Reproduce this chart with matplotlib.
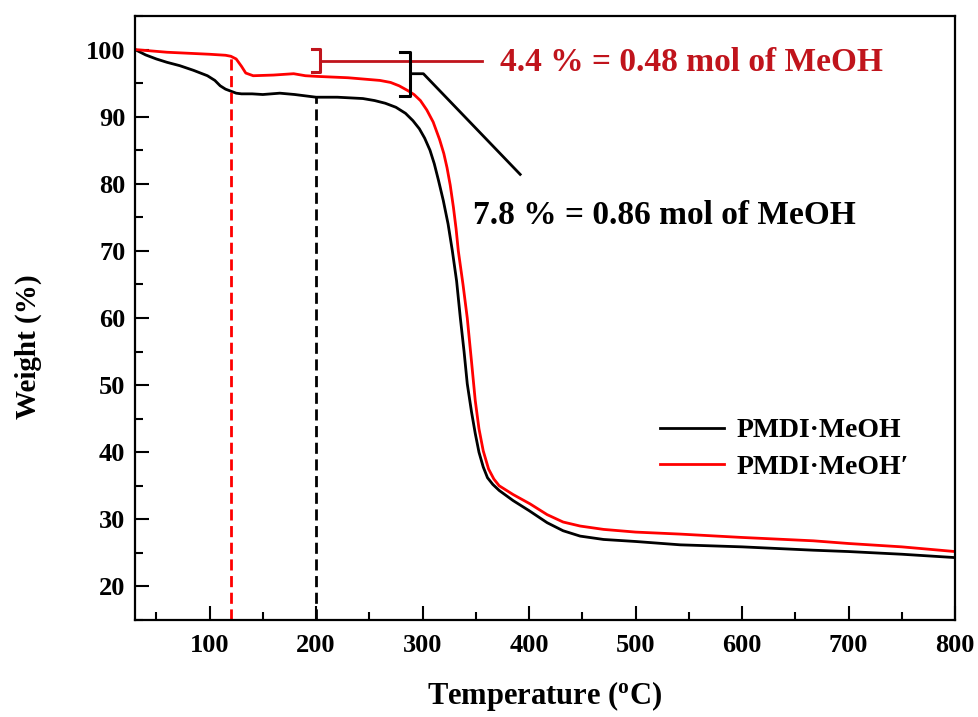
import matplotlib
matplotlib.use("Agg")
import matplotlib.pyplot as plt
from matplotlib.ticker import MultipleLocator

plt.rcParams["font.family"] = ["Liberation Serif", "DejaVu Serif"]
plt.rcParams["font.weight"] = "bold"
plt.rcParams["mathtext.fontset"] = "custom"
plt.rcParams["mathtext.rm"] = "Liberation Serif:bold"
plt.rcParams["mathtext.it"] = "Liberation Serif:bold"

# TGA curves: temperature (°C) vs. residual weight (%)
temp_a = [30, 40, 50, 60, 72, 85, 98, 105, 110, 115, 120, 125, 130, 140, 150,
          166, 180, 200, 220, 244, 255, 265, 275, 284, 291, 297, 302, 307, 311,
          315, 319.5, 324, 328, 332, 335.5, 339, 342, 346, 349.5, 353, 357,
          361, 366, 372, 385, 400, 417, 432, 448, 470, 500, 542, 600, 667,
          700, 750, 800]
weight_a = [100.0, 99.2, 98.6, 98.1, 97.6, 96.9, 96.1, 95.4, 94.6, 94.1, 93.8,
            93.5, 93.4, 93.4, 93.3, 93.5, 93.3, 92.9, 92.9, 92.7, 92.4, 92.0,
            91.4, 90.5, 89.4, 88.2, 86.8, 85.0, 83.0, 80.5, 77.5, 74.0, 70.0,
            65.5, 60.0, 55.0, 50.2, 46.0, 42.8, 40.0, 37.8, 36.2, 35.2, 34.3,
            32.8, 31.3, 29.5, 28.3, 27.5, 27.0, 26.7, 26.2, 25.9, 25.4, 25.2,
            24.8, 24.3]

temp_b = [30, 60, 100, 115, 120, 125, 130, 134, 141, 160, 179, 190, 201, 230,
          260, 270, 278, 286, 292, 298, 304, 310, 316, 320, 323, 326, 329,
          331.5, 333.6, 338, 342, 346, 349.5, 353, 357, 362, 367, 372, 385,
          401, 417, 432, 448, 470, 500, 542, 600, 667, 700, 750, 800]
weight_b = [100.0, 99.6, 99.3, 99.15, 99.0, 98.6, 97.5, 96.5, 96.1, 96.2, 96.4,
            96.1, 96.0, 95.8, 95.4, 95.1, 94.6, 93.9, 93.3, 92.4, 91.0, 89.2,
            86.6, 84.5, 82.4, 79.8, 76.5, 73.3, 70.0, 65.0, 60.0, 53.5, 47.7,
            43.5, 40.2, 37.5, 36.0, 35.0, 33.7, 32.3, 30.7, 29.6, 29.0, 28.5,
            28.1, 27.8, 27.3, 26.8, 26.4, 25.9, 25.2]

series_labels = ["PMDI\u00b7MeOH", "PMDI\u00b7MeOH\u2032"]
marker_temps = [200, 120]          # dashed guide lines (black, red)
marker_weights = [92.9, 99.0]

loss_text_b = "4.4 % = 0.48 mol of MeOH"
loss_text_a = "7.8 % = 0.86 mol of MeOH"

fig = plt.figure(figsize=(9.79, 7.17), dpi=100)
ax = fig.add_axes([135 / 979, 1 - 620 / 717, 820 / 979, 604 / 717])

ax.plot(temp_a, weight_a, color="black", lw=2.0, label=series_labels[0])
ax.plot(temp_b, weight_b, color="#ff0000", lw=2.0, label=series_labels[1])

ax.set_xlim(30, 800)
ax.set_ylim(15, 105)

# dashed guides at the end of the methanol loss
ax.plot([marker_temps[1], marker_temps[1]], [15, marker_weights[1]],
        color="#ff0000", lw=2.0, ls=(0, (4, 2)))
ax.plot([marker_temps[0], marker_temps[0]], [15, marker_weights[0]],
        color="black", lw=2.0, ls=(0, (4, 2)))

# bracket for the red curve
dark_red = "#c0141c"
ax.plot([196.3, 204.1, 204.1, 196.3], [100.1, 100.1, 96.6, 96.6],
        color=dark_red, lw=2.2, solid_joinstyle="round")
ax.plot([204.1, 355.8], [98.3, 98.3], color=dark_red, lw=2.0)
ax.text(373, 98.1, loss_text_b, color=dark_red, fontsize=24,
        fontweight="bold", va="center", ha="left")

# bracket for the black curve
ax.plot([279.2, 288.6, 288.6, 279.2], [99.6, 99.6, 93.1, 93.1],
        color="black", lw=2.2, solid_joinstyle="round")
ax.plot([288.6, 300.8, 391.7], [96.4, 96.4, 81.4], color="black", lw=2.0)
ax.text(347.7, 75.3, loss_text_a, color="black", fontsize=24,
        fontweight="bold", va="center", ha="left")

ax.xaxis.set_major_locator(MultipleLocator(100))
ax.xaxis.set_minor_locator(MultipleLocator(50))
ax.yaxis.set_major_locator(MultipleLocator(10))
ax.yaxis.set_minor_locator(MultipleLocator(5))
ax.set_xticks(range(100, 801, 100))
ax.set_yticks(range(20, 101, 10))

ax.tick_params(which="major", direction="in", length=10, width=1.5,
               labelsize=19, top=False, right=False)
ax.tick_params(which="minor", direction="in", length=6, width=1.5,
               top=False, right=False)
ax.tick_params(axis="x", which="major", pad=10)
ax.tick_params(axis="y", which="major", pad=7)
for lab in ax.get_xticklabels() + ax.get_yticklabels():
    lab.set_fontweight("bold")

for sp in ax.spines.values():
    sp.set_linewidth(1.6)

ax.set_xlabel(r"Temperature ($^{\mathrm{o}}$C)", fontsize=22, fontweight="bold")
ax.set_ylabel("Weight (%)", fontsize=21, fontweight="bold")
ax.xaxis.set_label_coords(0.5, -0.097)
ax.yaxis.set_label_coords(-0.113, 0.452)

leg = ax.legend(loc="upper left", bbox_to_anchor=((660 - 135) / 820, (620 - 418) / 604),
                frameon=False, fontsize=20, handlelength=2.3, handletextpad=0.45,
                labelspacing=0.4, borderpad=0, borderaxespad=0)
for t in leg.get_texts():
    t.set_fontweight("bold")

fig.savefig("out.png", dpi=100)
